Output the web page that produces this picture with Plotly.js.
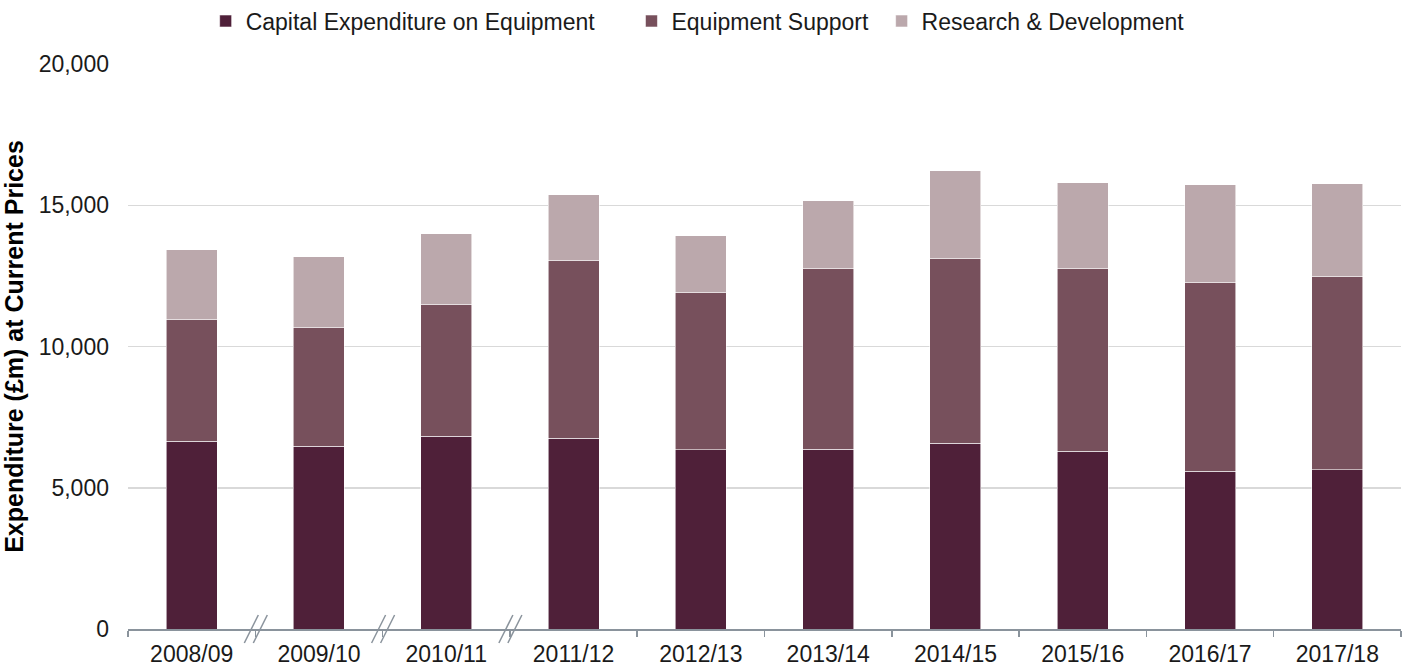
<!DOCTYPE html>
<html>
<head>
<meta charset="utf-8">
<script src="https://cdn.plot.ly/plotly-3.0.1.min.js"></script>
<style>html,body{margin:0;padding:0;background:#fff;}#chart{width:1407px;height:669px;}</style>
</head>
<body>
<div id="chart"></div>
<script>
const years = ["2008/09","2009/10","2010/11","2011/12","2012/13","2013/14","2014/15","2015/16","2016/17","2017/18"];
const capital = [6655, 6470, 6830, 6760, 6340, 6370, 6570, 6300, 5590, 5630];
const support = [4315, 4210, 4660, 6300, 5580, 6400, 6550, 6470, 6680, 6850];
const research = [2450, 2500, 2500, 2310, 2000, 2390, 3100, 3030, 3460, 3280];
const seriesNames = ["Capital Expenditure on Equipment", "Equipment Support", "Research & Development"];
const seriesColors = ["#4F2039", "#77505C", "#BBA8AC"];
const yTicks = [0, 5000, 10000, 15000, 20000];
const breakAfter = [0, 1, 2];

const FONT = "Liberation Sans, Arial, sans-serif";
const legendIds = ["legend", "legend2", "legend3"];
const legendX = [0.061, 0.3955, 0.592];

const data = [capital, support, research].map((vals, i) => ({
  type: "bar",
  x: years,
  y: vals,
  name: seriesNames[i],
  legend: legendIds[i],
  marker: {color: seriesColors[i], line: {color: "rgba(255,255,255,0.7)", width: 0.8}},
  hoverinfo: "x+y+name"
}));

const shapes = [];
breakAfter.forEach(k => {
  [[-11, 3], [-2, 12]].forEach(([a, b]) => {
    shapes.push({
      type: "line", xref: "x", yref: "paper",
      xsizemode: "pixel", ysizemode: "pixel",
      xanchor: k + 0.5, yanchor: 0,
      x0: a, x1: b, y0: -14, y1: 14,
      line: {color: "#8A939C", width: 1.5}
    });
  });
});

const layout = {
  width: 1407, height: 669,
  margin: {l: 128, r: 6, t: 64, b: 40, autoexpand: false},
  paper_bgcolor: "#fff", plot_bgcolor: "#fff",
  barmode: "stack",
  bargap: 0.6,
  font: {family: FONT, size: 23, color: "#1a1a1a"},
  showlegend: true,
  xaxis: {
    type: "category",
    showline: true, linecolor: "#8A939C", linewidth: 1.5,
    ticks: "outside", tickson: "boundaries", ticklen: 6, tickcolor: "#8A939C", tickwidth: 1.5,
    showgrid: false, zeroline: false,
    ticklabelstandoff: 4,
    tickfont: {family: FONT, size: 23, color: "#1a1a1a"},
    automargin: false
  },
  yaxis: {
    range: [0, 20000],
    tickvals: yTicks,
    tickformat: ",d",
    showgrid: true, gridcolor: "#D9D9D9", gridwidth: 1.5,
    zeroline: false, showline: false, ticks: "",
    ticklabelstandoff: 18,
    tickfont: {family: FONT, size: 23, color: "#1a1a1a"},
    title: {text: "Expenditure (£m) at Current Prices", standoff: 8,
            font: {family: FONT, size: 25, color: "#000", weight: "bold"}},
    automargin: false
  },
  shapes: shapes
};
legendIds.forEach((id, i) => {
  layout[id] = {orientation: "h", x: legendX[i], xanchor: "left", y: 1.076, yanchor: "middle",
                font: {family: FONT, size: 23, color: "#1a1a1a"}, itemwidth: 30, bgcolor: "rgba(0,0,0,0)"};
});

Plotly.newPlot("chart", data, layout, {displayModeBar: false, staticPlot: true});
</script>
</body>
</html>
